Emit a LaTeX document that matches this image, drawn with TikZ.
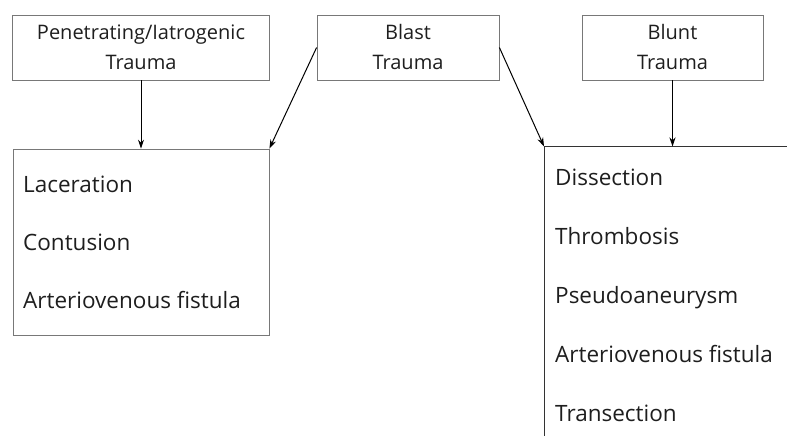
\documentclass[tikz,border=0pt]{standalone}
\usepackage{fontspec}
\setmainfont{Open Sans}
\usetikzlibrary{arrows.meta,positioning}
\definecolor{boxgray}{RGB}{120,120,120}
\definecolor{txtdark}{RGB}{30,30,30}

\tikzset{
  cause/.style={draw=boxgray,line width=0.8pt,minimum height=65pt,inner sep=0pt,align=center,text=txtdark,font=\fontsize{20}{30}\selectfont},
  listbox/.style={draw=boxgray,line width=0.8pt,inner sep=0pt},
  item/.style={anchor=base west,inner sep=0pt,text=txtdark,font=\fontsize{22.5}{26}\selectfont},
  link/.style={-{Stealth[length=9pt,width=6pt]},line width=1pt}
}

\begin{document}
\begin{tikzpicture}[x=1pt,y=-1pt]
\useasboundingbox (0,0) rectangle (787,436);
% trauma mechanisms
\node[cause,minimum width=257pt] (pen) at (141,47.5) {Penetrating/Iatrogenic\\Trauma};
\node[cause,minimum width=182pt] (blast) at (408,47.5) {Blast\\Trauma};
\node[cause,minimum width=181pt] (blunt) at (672.5,47.5) {Blunt\\Trauma};
% injury lists
\node[listbox,minimum width=256pt,minimum height=186pt] (left) at (141,242) {};
\coordinate (rtop) at (544,146.5);
\coordinate (rend) at (787,146.5);
\coordinate (rbot) at (544,436);
\draw[line width=0.8pt,black!80] (rend) -- (rtop) -- (rbot);
\node[item] (lac) at (23,192) {Laceration};
\node[item] (con) at (23,250) {Contusion};
\node[item] (avfl) at (23,308) {Arteriovenous fistula};
\node[item] (dis) at (555,185) {Dissection};
\node[item] (thr) at (555,244) {Thrombosis};
\node[item] (pse) at (555,303) {Pseudoaneurysm};
\node[item] (avfr) at (555,362) {Arteriovenous fistula};
\node[item] (tra) at (555,421) {Transection};
% arrows
\draw[link] (pen.south) -- (left.north -| pen.south);
\draw[link] (blast.west) -- (left.north east);
\draw[link] (blast.east) -- (rtop);
\draw[link] (blunt.south) -- (blunt.south |- rtop);
\end{tikzpicture}
\end{document}
